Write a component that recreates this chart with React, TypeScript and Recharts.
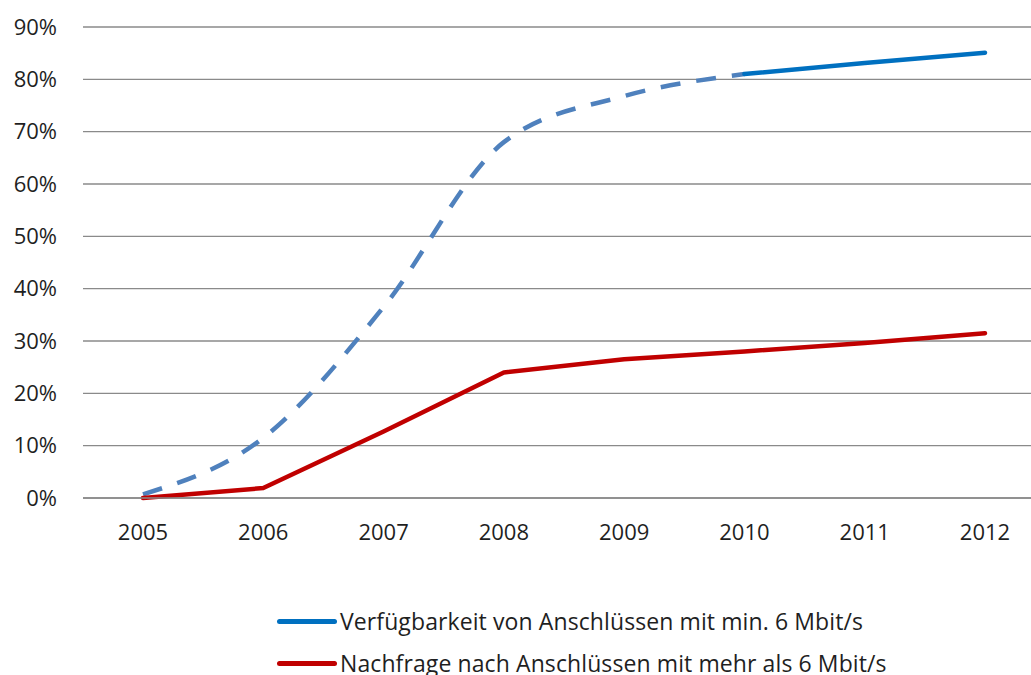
import React from 'react';
import { LineChart, Line, XAxis, YAxis, CartesianGrid, Legend } from 'recharts';

const years = ['2005', '2006', '2007', '2008', '2009', '2010', '2011', '2012'];
const availabilityEstimate: (number | null)[] = [0.7, 11.5, 36.5, 68, 76.8, 81, null, null];
const availability: (number | null)[] = [null, null, null, null, null, 81, 83.1, 85.1];
const demand: number[] = [0, 1.9, 12.7, 24, 26.5, 28, 29.6, 31.5];
const yTicks = [0, 10, 20, 30, 40, 50, 60, 70, 80, 90];
const legendItems = [
  { label: 'Verfügbarkeit von Anschlüssen mit min. 6 Mbit/s', color: '#0070C0' },
  { label: 'Nachfrage nach Anschlüssen mit mehr als 6 Mbit/s', color: '#C00000' },
];

const data = years.map((year, i) => ({
  year,
  est: availabilityEstimate[i],
  avail: availability[i],
  demand: demand[i],
}));

const FONT = '"Open Sans", Lato, sans-serif';
const TEXT = '#1f1f1f';

const renderLegend = () => (
  <div style={{ fontFamily: FONT, fontSize: 23, color: TEXT }}>
    {legendItems.map((it) => (
      <div key={it.label} style={{ display: 'flex', alignItems: 'center', height: 42 }}>
        <div style={{ width: 60, height: 5, borderRadius: 3, background: it.color, marginRight: 3 }} />
        <span style={{ whiteSpace: 'nowrap', lineHeight: '30px', letterSpacing: 0.1 }}>{it.label}</span>
      </div>
    ))}
  </div>
);

export default function App() {
  return (
    <div style={{ position: 'absolute', left: 0, top: 0, width: 1031, height: 675, overflow: 'hidden', background: '#fff' }}>
      <LineChart width={1060} height={675} data={data} margin={{ top: 27, right: 15, left: 0, bottom: 0 }}>
        <CartesianGrid vertical={false} stroke="#8a8a8a" strokeWidth={1.4} />
        <XAxis
          dataKey="year"
          height={177}
          padding={{ left: 60, right: 60 }}
          axisLine={{ stroke: '#8a8a8a', strokeWidth: 1.4 }}
          tickLine={false}
          tickSize={0}
          tickMargin={26}
          tick={{ fontFamily: FONT, fontSize: 22, fill: TEXT }}
          interval={0}
        />
        <YAxis
          width={83}
          domain={[0, 90]}
          ticks={yTicks}
          axisLine={false}
          tickLine={false}
          tickSize={0}
          tickMargin={26}
          tickFormatter={(v: number) => `${v}%`}
          tick={{ fontFamily: FONT, fontSize: 22, fill: TEXT }}
          interval={0}
        />
        <Line
          type="monotone"
          dataKey="est"
          stroke="#4F81BD"
          strokeWidth={4.5}
          strokeDasharray="20 16"
          dot={false}
          legendType="none"
          isAnimationActive={false}
          connectNulls={false}
        />
        <Line
          type="linear"
          dataKey="avail"
          stroke="#0070C0"
          strokeWidth={4.5}
          strokeLinecap="round"
          dot={false}
          isAnimationActive={false}
        />
        <Line
          type="linear"
          dataKey="demand"
          stroke="#C00000"
          strokeWidth={4.5}
          strokeLinecap="round"
          strokeLinejoin="round"
          dot={false}
          isAnimationActive={false}
        />
        <Legend
          layout="horizontal"
          verticalAlign="middle"
          align="center"
          content={renderLegend}
          wrapperStyle={{ position: 'absolute', left: 277, top: 600, width: 720 }}
        />
      </LineChart>
    </div>
  );
}
